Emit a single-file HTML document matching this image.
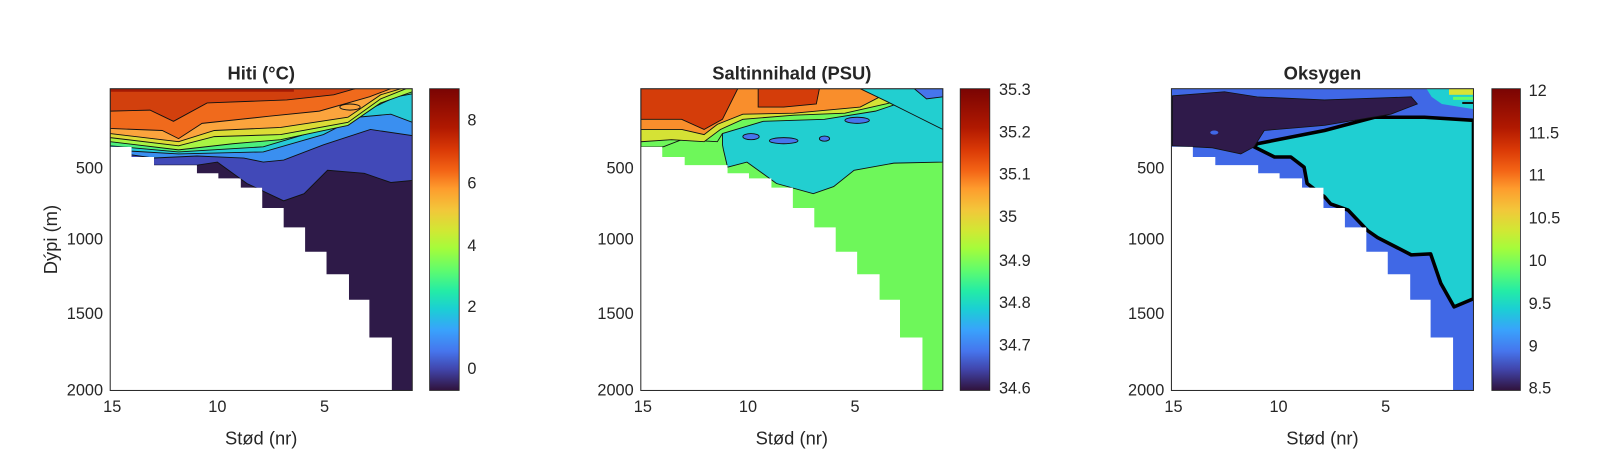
<!DOCTYPE html>
<html><head><meta charset="utf-8"><style>
html,body{margin:0;padding:0;background:#fff;width:1600px;height:471px;overflow:hidden}
svg text{font-family:"Liberation Sans",Arial,sans-serif;fill:#262626}
</style></head><body>
<svg width="1600" height="471" viewBox="0 0 1568 462" preserveAspectRatio="none" xmlns="http://www.w3.org/2000/svg">
<defs>
<clipPath id="w"><polygon points="0,0 296,0 296,296 276,296 276,244 254,244 254,207 234,207 234,182 212,182 212,160 191,160 191,136 170,136 170,117 149,117 149,97 128,97 128,88 106,88 106,83 85,83 85,75 43,75 43,67 21,67 21,57 0,57"/></clipPath>
<linearGradient id="turbo" x1="0" y1="1" x2="0" y2="0">
<stop offset="0" stop-color="#30123b"/><stop offset="0.07" stop-color="#4145ab"/><stop offset="0.13" stop-color="#4675ed"/><stop offset="0.2" stop-color="#39a2fc"/><stop offset="0.27" stop-color="#1bcfd4"/><stop offset="0.33" stop-color="#24eca6"/><stop offset="0.4" stop-color="#61fc6c"/><stop offset="0.47" stop-color="#a4fc3b"/><stop offset="0.53" stop-color="#d1e834"/><stop offset="0.6" stop-color="#f3c63a"/><stop offset="0.67" stop-color="#fe9b2d"/><stop offset="0.73" stop-color="#f36315"/><stop offset="0.8" stop-color="#d93806"/><stop offset="0.87" stop-color="#b11901"/><stop offset="1" stop-color="#7a0403"/>
</linearGradient>
</defs>

<!-- Panel 1 -->
<g transform="translate(108,87)">
<g clip-path="url(#w)" stroke="#111" stroke-width="0.9">
<rect x="0" y="0" width="296" height="296" fill="#2e1a48" stroke="none"/>
<polygon fill="#4149b8" points="0,0 296,0 296,90 275,92 249,83 213,80 190,103 170,110 134,93 105,72 85,75 0,75"/>
<polygon fill="#3a8ff0" points="0,0 296,0 296,46 255,40 209,55 170,70 150,72 131,68 85,66 43,68 0,62"/>
<polygon fill="#26c9d6" points="0,0 296,0 296,33 275,25 242,28 209,45 150,62 67,64 0,60"/>
<polygon fill="#4cf07c" points="0,0 296,0 296,5 280,8 250,22 200,42 150,57 67,62 0,56"/>
<polygon fill="#a8f544" points="0,0 296,0 296,3 265,14 233,36 167,50 120,54 67,60 0,52"/>
<polygon fill="#dcdc36" points="0,0 290,0 265,10 233,33 167,45 102,47 67,56 0,48"/>
<polygon fill="#fba43d" points="0,0 285,0 265,6 233,28 167,38 102,41 67,52 0,44"/>
<polygon fill="#f06a1c" points="0,0 275,0 254,8 205,22 156,27 90,34 67,49 51,41 0,39"/>
<polygon fill="#d2400d" points="0,0 240,0 219,6 173,11 95,14 62,32 39,21 0,22"/>
<rect x="0" y="0" width="180" height="3" fill="#a51a04" stroke="none"/>
<ellipse cx="235" cy="18" rx="10" ry="3" fill="#fba43d"/>
</g>
<rect x="0" y="0" width="296" height="296" fill="none" stroke="#262626" stroke-width="1"/>
</g>

<!-- Panel 2 -->
<g transform="translate(628,87)">
<g clip-path="url(#w)" stroke="#111" stroke-width="0.9">
<rect x="0" y="0" width="296" height="296" fill="#6ef75a" stroke="none"/>
<polygon fill="#22cfd0" points="80,0 296,0 296,72 248,73 209,80 189,96 169,103 133,93 104,72 85,77 81,60 80,55"/>
<polygon fill="#6ef75a" points="0,0 296,0 296,6 260,12 230,22 180,30 120,32 80,44 75,52 40,50 22,57 0,57"/>
<polygon fill="#d5e235" points="0,0 296,0 296,1 240,15 200,24 150,26 100,30 78,40 62,52 30,50 0,52"/>
<polygon fill="#f98e2c" points="0,0 250,0 240,5 215,18 150,24 100,25 75,35 62,45 40,40 0,40"/>
<polygon fill="#d43d0a" points="0,0 95,0 80,30 62,40 40,30 0,30"/>
<polygon fill="#d43d0a" points="115,0 175,0 172,15 140,18 115,18"/>
<polygon fill="#22cfd0" points="215,0 296,0 296,40 260,22 240,12"/>
<ellipse cx="108" cy="47" rx="8" ry="3" fill="#4675ed"/>
<ellipse cx="140" cy="51" rx="14" ry="3" fill="#4675ed"/>
<ellipse cx="180" cy="49" rx="5" ry="2.5" fill="#4675ed"/>
<ellipse cx="212" cy="31" rx="12" ry="3" fill="#4675ed"/>
<polygon fill="#4675ed" points="268,0 296,0 296,8 280,10"/>
</g>
<rect x="0" y="0" width="296" height="296" fill="none" stroke="#262626" stroke-width="1"/>
</g>

<!-- Panel 3 -->
<g transform="translate(1148,87)">
<g clip-path="url(#w)">
<rect x="0" y="0" width="296" height="296" fill="#4068e6"/>
<polygon fill="#1fcfd2" stroke="#000" stroke-width="3.5" stroke-linejoin="round" points="81,57 84,54 150,41 199,28 248,28 296,31 296,206 277,214 264,191 254,162 235,163 202,146 192,139 173,119 156,113 150,106 133,93 130,77 117,67 101,67"/>
<polygon fill="#2f1a4a" stroke="#111" stroke-width="0.8" points="1,7 52,3 84,8 150,11 235,8 241,15 215,25 150,36 91,41 81,57 68,64 40,58 1,56"/>
<polygon fill="#1fcfd2" points="250,0 296,0 296,20 265,15 255,8"/>
<rect x="272" y="0" width="24" height="6" fill="#d9e335"/>
<rect x="276" y="8" width="20" height="3" fill="#61fc6c"/>
<rect x="285" y="13" width="11" height="2" fill="#111"/>
<ellipse cx="42" cy="43" rx="4" ry="2" fill="#4068e6"/>
</g>
<rect x="0" y="0" width="296" height="296" fill="none" stroke="#262626" stroke-width="1"/>
</g>

<!-- axes ticks and labels -->
<g font-size="16" text-anchor="end">
<text x="101" y="170">500</text><text x="101" y="240">1000</text><text x="101" y="313">1500</text><text x="101" y="388">2000</text>
<text x="621" y="170">500</text><text x="621" y="240">1000</text><text x="621" y="313">1500</text><text x="621" y="388">2000</text>
<text x="1141" y="170">500</text><text x="1141" y="240">1000</text><text x="1141" y="313">1500</text><text x="1141" y="388">2000</text>
</g>
<g font-size="16" text-anchor="middle">
<text x="110" y="404">15</text><text x="213" y="404">10</text><text x="318" y="404">5</text>
<text x="630" y="404">15</text><text x="733" y="404">10</text><text x="838" y="404">5</text>
<text x="1150" y="404">15</text><text x="1253" y="404">10</text><text x="1358" y="404">5</text>
</g>
<g font-size="18" text-anchor="middle">
<text x="256" y="436">Stød (nr)</text><text x="776" y="436">Stød (nr)</text><text x="1296" y="436">Stød (nr)</text>
<text transform="translate(56,235) rotate(-90)">Dýpi (m)</text>
</g>
<g font-size="18" font-weight="bold" text-anchor="middle">
<text x="256" y="78" fill="#111">Hiti (°C)</text><text x="776" y="78" fill="#111">Saltinnihald (PSU)</text><text x="1296" y="78" fill="#111">Oksygen</text>
</g>

<!-- colorbars -->
<rect x="421" y="87" width="29" height="296" fill="url(#turbo)" stroke="#262626" stroke-width="0.8"/>
<rect x="941" y="87" width="29" height="296" fill="url(#turbo)" stroke="#262626" stroke-width="0.8"/>
<rect x="1462" y="87" width="28" height="296" fill="url(#turbo)" stroke="#262626" stroke-width="0.8"/>
<g font-size="16">
<text x="458" y="123">8</text><text x="458" y="185">6</text><text x="458" y="246">4</text><text x="458" y="306">2</text><text x="458" y="367">0</text>
<text x="979" y="93">35.3</text><text x="979" y="135">35.2</text><text x="979" y="176">35.1</text><text x="979" y="218">35</text><text x="979" y="261">34.9</text><text x="979" y="302">34.8</text><text x="979" y="344">34.7</text><text x="979" y="386">34.6</text>
<text x="1498" y="94">12</text><text x="1498" y="136">11.5</text><text x="1498" y="177">11</text><text x="1498" y="219">10.5</text><text x="1498" y="261">10</text><text x="1498" y="303">9.5</text><text x="1498" y="345">9</text><text x="1498" y="386">8.5</text>
</g>
</svg>
</body></html>
